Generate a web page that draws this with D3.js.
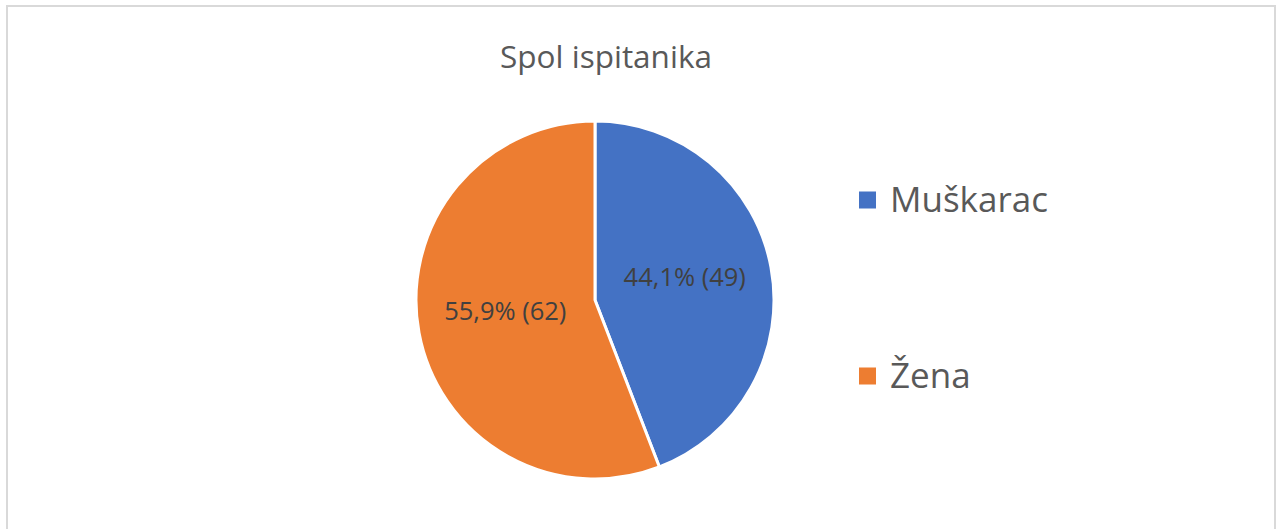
<!DOCTYPE html>
<html>
<head>
<meta charset="utf-8">
<script src="https://cdn.jsdelivr.net/npm/d3@7"></script>
<style>
  body { margin: 0; background: #fff; }
  svg { display: block; font-family: "Open Sans", sans-serif; }
</style>
</head>
<body>
<div id="chart"></div>
<script>
// chart data
const categories = ["Muškarac", "Žena"];
const counts = [49, 62];
const percents = ["44,1%", "55,9%"];
const colors = ["#4472c4", "#ed7d31"];

const width = 1277;
const height = 529;

const svg = d3
  .select("#chart")
  .append("svg")
  .attr("width", width)
  .attr("height", height);

// chart frame
svg
  .append("rect")
  .attr("x", 7)
  .attr("y", 6)
  .attr("width", 1268)
  .attr("height", 540)
  .attr("fill", "#fff")
  .attr("stroke", "#d9d9d9")
  .attr("stroke-width", 2);

// title
svg
  .append("text")
  .attr("x", 606)
  .attr("y", 68)
  .attr("text-anchor", "middle")
  .attr("fill", "#595959")
  .style("font-size", "31.5px")
  .text("Spol ispitanika");

// pie
const cx = 595;
const cy = 300;
const radius = 179;

const pie = d3.pie().sort(null).value((d) => d);
const arc = d3.arc().innerRadius(0).outerRadius(radius);
const labelArc = d3.arc().innerRadius(radius * 0.51).outerRadius(radius * 0.51);

const arcs = pie(counts);

const g = svg.append("g").attr("transform", `translate(${cx},${cy})`);

g.selectAll("path")
  .data(arcs)
  .join("path")
  .attr("d", arc)
  .attr("fill", (d, i) => colors[i])
  .attr("stroke", "#fff")
  .attr("stroke-width", 3)
  .attr("stroke-linejoin", "round");

// slice labels
g.selectAll("text")
  .data(arcs)
  .join("text")
  .attr("transform", (d) => `translate(${labelArc.centroid(d)})`)
  .attr("text-anchor", "middle")
  .attr("y", 3)
  .attr("fill", "#404040")
  .style("font-size", "25.5px")
  .text((d, i) => `${percents[i]} (${counts[i]})`);

// legend
const legendY = d3.scalePoint().domain(categories).range([200, 376]);

const legend = svg
  .append("g")
  .selectAll("g")
  .data(categories)
  .join("g")
  .attr("transform", (d) => `translate(859,${legendY(d)})`);

legend
  .append("rect")
  .attr("x", 0)
  .attr("y", -8.5)
  .attr("width", 17)
  .attr("height", 17)
  .attr("fill", (d, i) => colors[i]);

legend
  .append("text")
  .attr("x", 31)
  .attr("y", 12)
  .attr("fill", "#595959")
  .style("font-size", "35px")
  .text((d) => d);
</script>
</body>
</html>
